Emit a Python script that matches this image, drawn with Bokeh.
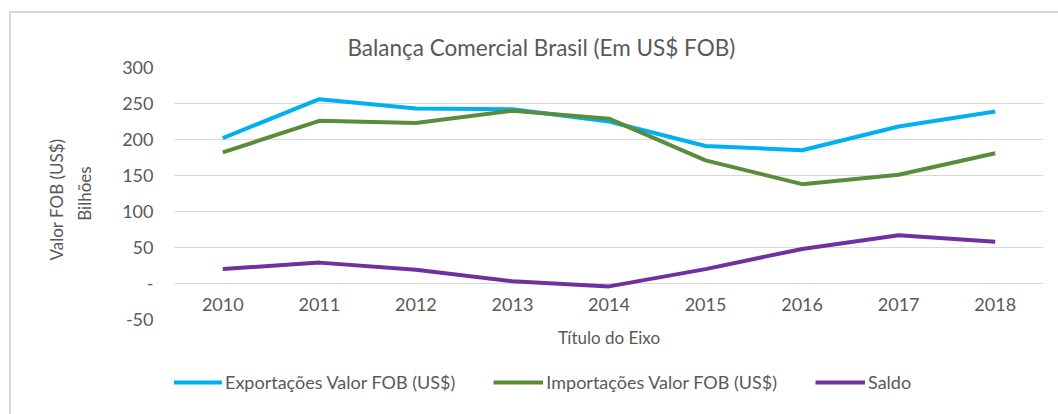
from bokeh.plotting import figure
from bokeh.layouts import column
from bokeh.models import FactorRange, Range1d, FixedTicker, Title, Legend, LegendItem
from bokeh.embed import file_html
from bokeh.resources import INLINE
from bokeh.core.properties import value

# ---- data ----
anos = ["2010", "2011", "2012", "2013", "2014", "2015", "2016", "2017", "2018"]
exportacoes = [202, 256, 243, 242, 225, 191, 185, 218, 239]
importacoes = [182, 226, 223, 240, 229, 171, 138, 151, 181]
saldo = [20, 29, 19, 3, -4, 20, 48, 67, 58]
y_ticks = [-50, 0, 50, 100, 150, 200, 250, 300]
y_tick_labels = ["-50", "-", "50", "100", "150", "200", "250", "300"]
series_names = ["Exportações Valor FOB (US$)", "Importações Valor FOB (US$)", "Saldo"]
series_colors = ["#00B0F0", "#5B8C3A", "#7030A0"]

FONT = "Lato"
TXT = "#595959"

p = figure(
    x_range=FactorRange(*anos, range_padding=0),
    y_range=Range1d(-50, 300),
    width=1047, height=347,
    output_backend="svg", toolbar_location=None,
    min_border_left=163, min_border_right=15,
    min_border_top=54, min_border_bottom=41,
)
p.outline_line_color = None
p.background_fill_color = "white"
p.border_fill_color = "white"

p.title.text = "Balança Comercial Brasil (Em US$ FOB)"
p.title.align = "left"
p.title.offset = 173
p.title.standoff = 14
p.title.text_font = FONT
p.title.text_font_size = "22.5px"
p.title.text_font_style = "normal"
p.title.text_color = TXT

p.xaxis.visible = False
p.xgrid.visible = False

p.yaxis.ticker = FixedTicker(ticks=y_ticks)
p.yaxis.major_label_overrides = {t: l for t, l in zip(y_ticks, y_tick_labels)}
p.yaxis.axis_line_color = None
p.yaxis.major_tick_line_color = None
p.yaxis.minor_tick_line_color = None
p.yaxis.major_tick_out = 0
p.yaxis.major_tick_in = 0
p.yaxis.major_label_standoff = 21
p.yaxis.major_label_text_font = FONT
p.yaxis.major_label_text_font_size = "18px"
p.yaxis.major_label_text_color = TXT
p.yaxis.axis_label = "Bilhões"
p.yaxis.axis_label_standoff = 24
p.yaxis.axis_label_text_font = FONT
p.yaxis.axis_label_text_font_size = "17px"
p.yaxis.axis_label_text_font_style = "normal"
p.yaxis.axis_label_text_color = TXT

p.ygrid.ticker = FixedTicker(ticks=y_ticks)
p.ygrid.grid_line_color = "#d9d9d9"
p.ygrid.grid_line_width = 1

p.add_layout(Title(text="Valor FOB (US$)", align="left", offset=59, text_font=FONT,
                   text_font_size="17px", text_font_style="normal", text_color=TXT), "left")
p.add_layout(Title(text="Título do Eixo", align="center", text_font=FONT,
                   text_font_size="17px", text_font_style="normal", text_color=TXT), "below")

# x tick labels placed just under the zero line
p.text(x=anos, y=[0] * len(anos), text=anos, text_align="center", text_baseline="middle",
       y_offset=21, text_font=value(FONT), text_font_size="18px", text_color=TXT)

for vals, col in zip([exportacoes, importacoes, saldo], series_colors):
    p.line(anos, vals, line_color=col, line_width=4)

# ---- legend strip below the chart (its lines lie outside its visible range) ----
pl = figure(width=1047, height=54, output_backend="svg", toolbar_location=None,
            x_range=FactorRange(*anos, range_padding=0), y_range=Range1d(1000, 1001),
            min_border=0, outline_line_color=None)
pl.axis.visible = False
pl.grid.visible = False
items = []
for name, vals, col in zip(series_names, [exportacoes, importacoes, saldo], series_colors):
    r = pl.line(anos, vals, line_color=col, line_width=4)
    items.append(LegendItem(label=name, renderers=[r]))

legend = Legend(
    items=items, orientation="horizontal", location=(-2, 21),
    glyph_width=50, glyph_height=20, label_standoff=3, spacing=38,
    padding=0, margin=0, border_line_color=None, background_fill_alpha=0,
    label_text_font=FONT, label_text_font_size="18px", label_text_color=TXT,
)
pl.add_layout(legend)

layout = column(p, pl, spacing=0,
                styles={"margin-left": "9px", "margin-top": "11px",
                        "border-top": "2px solid #d9d9d9", "border-left": "2px solid #d9d9d9"})

open("out.html", "w").write(file_html(layout, INLINE))
